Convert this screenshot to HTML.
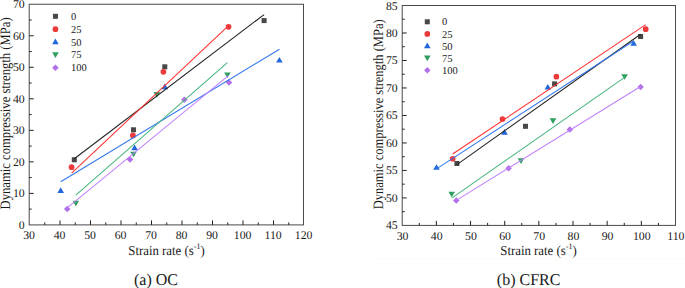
<!DOCTYPE html>
<html><head><meta charset="utf-8"><style>
html,body{margin:0;padding:0;background:#fff;}
svg{display:block;text-rendering:geometricPrecision;}
text{font-family:"Liberation Serif",serif;fill:#1a1a1a;}
.t{font-size:11.8px;}
.l{font-size:10.5px;}
.a{font-size:12.8px;}
.c{font-size:16px;}
</style></head><body>
<svg width="685" height="288" viewBox="0 0 685 288">
<rect width="685" height="288" fill="#fff"/>
<rect x="374.5" y="258" width="310.5" height="1" fill="#fcfbf6"/>
<rect x="29.2" y="4.25" width="274.3" height="220.65" fill="none" stroke="#4a4a4a" stroke-width="1"/>
<text x="29.10" y="239.20" text-anchor="middle" class="t">30</text>
<line x1="44.75" y1="224.9" x2="44.75" y2="222.4" stroke="#222" stroke-width="1"/>
<line x1="60.00" y1="224.9" x2="60.00" y2="220.4" stroke="#222" stroke-width="1"/>
<text x="59.60" y="239.20" text-anchor="middle" class="t">40</text>
<line x1="75.25" y1="224.9" x2="75.25" y2="222.4" stroke="#222" stroke-width="1"/>
<line x1="90.50" y1="224.9" x2="90.50" y2="220.4" stroke="#222" stroke-width="1"/>
<text x="90.10" y="239.20" text-anchor="middle" class="t">50</text>
<line x1="105.75" y1="224.9" x2="105.75" y2="222.4" stroke="#222" stroke-width="1"/>
<line x1="121.00" y1="224.9" x2="121.00" y2="220.4" stroke="#222" stroke-width="1"/>
<text x="120.60" y="239.20" text-anchor="middle" class="t">60</text>
<line x1="136.25" y1="224.9" x2="136.25" y2="222.4" stroke="#222" stroke-width="1"/>
<line x1="151.50" y1="224.9" x2="151.50" y2="220.4" stroke="#222" stroke-width="1"/>
<text x="151.10" y="239.20" text-anchor="middle" class="t">70</text>
<line x1="166.75" y1="224.9" x2="166.75" y2="222.4" stroke="#222" stroke-width="1"/>
<line x1="182.00" y1="224.9" x2="182.00" y2="220.4" stroke="#222" stroke-width="1"/>
<text x="181.60" y="239.20" text-anchor="middle" class="t">80</text>
<line x1="197.25" y1="224.9" x2="197.25" y2="222.4" stroke="#222" stroke-width="1"/>
<line x1="212.50" y1="224.9" x2="212.50" y2="220.4" stroke="#222" stroke-width="1"/>
<text x="212.10" y="239.20" text-anchor="middle" class="t">90</text>
<line x1="227.75" y1="224.9" x2="227.75" y2="222.4" stroke="#222" stroke-width="1"/>
<line x1="243.00" y1="224.9" x2="243.00" y2="220.4" stroke="#222" stroke-width="1"/>
<text x="242.60" y="239.20" text-anchor="middle" class="t">100</text>
<line x1="258.25" y1="224.9" x2="258.25" y2="222.4" stroke="#222" stroke-width="1"/>
<line x1="273.50" y1="224.9" x2="273.50" y2="220.4" stroke="#222" stroke-width="1"/>
<text x="273.10" y="239.20" text-anchor="middle" class="t">110</text>
<line x1="288.75" y1="224.9" x2="288.75" y2="222.4" stroke="#222" stroke-width="1"/>
<text x="303.60" y="239.20" text-anchor="middle" class="t">120</text>
<text x="24.70" y="228.90" text-anchor="end" class="t">0</text>
<line x1="29.2" y1="209.14" x2="31.7" y2="209.14" stroke="#222" stroke-width="1"/>
<line x1="29.2" y1="193.38" x2="33.7" y2="193.38" stroke="#222" stroke-width="1"/>
<text x="24.70" y="197.38" text-anchor="end" class="t">10</text>
<line x1="29.2" y1="177.62" x2="31.7" y2="177.62" stroke="#222" stroke-width="1"/>
<line x1="29.2" y1="161.86" x2="33.7" y2="161.86" stroke="#222" stroke-width="1"/>
<text x="24.70" y="165.86" text-anchor="end" class="t">20</text>
<line x1="29.2" y1="146.10" x2="31.7" y2="146.10" stroke="#222" stroke-width="1"/>
<line x1="29.2" y1="130.34" x2="33.7" y2="130.34" stroke="#222" stroke-width="1"/>
<text x="24.70" y="134.34" text-anchor="end" class="t">30</text>
<line x1="29.2" y1="114.58" x2="31.7" y2="114.58" stroke="#222" stroke-width="1"/>
<line x1="29.2" y1="98.81" x2="33.7" y2="98.81" stroke="#222" stroke-width="1"/>
<text x="24.70" y="102.81" text-anchor="end" class="t">40</text>
<line x1="29.2" y1="83.05" x2="31.7" y2="83.05" stroke="#222" stroke-width="1"/>
<line x1="29.2" y1="67.29" x2="33.7" y2="67.29" stroke="#222" stroke-width="1"/>
<text x="24.70" y="71.29" text-anchor="end" class="t">50</text>
<line x1="29.2" y1="51.53" x2="31.7" y2="51.53" stroke="#222" stroke-width="1"/>
<line x1="29.2" y1="35.77" x2="33.7" y2="35.77" stroke="#222" stroke-width="1"/>
<text x="24.70" y="39.77" text-anchor="end" class="t">60</text>
<line x1="29.2" y1="20.01" x2="31.7" y2="20.01" stroke="#222" stroke-width="1"/>
<text x="24.70" y="8.25" text-anchor="end" class="t">70</text>
<rect x="71.79" y="157.29" width="5.02" height="5.02" fill="#484848"/>
<rect x="130.99" y="127.29" width="5.02" height="5.02" fill="#484848"/>
<rect x="162.29" y="64.29" width="5.02" height="5.02" fill="#484848"/>
<rect x="261.59" y="18.09" width="5.02" height="5.02" fill="#484848"/>
<circle cx="71.60" cy="167.20" r="2.84" fill="#ec3a3a"/>
<circle cx="132.90" cy="135.40" r="2.84" fill="#ec3a3a"/>
<circle cx="163.40" cy="71.80" r="2.84" fill="#ec3a3a"/>
<circle cx="228.60" cy="26.80" r="2.84" fill="#ec3a3a"/>
<polygon points="60.70,187.29 63.99,192.96 57.41,192.96" fill="#2266dd"/>
<polygon points="134.60,144.59 137.89,150.26 131.31,150.26" fill="#2266dd"/>
<polygon points="164.80,83.59 168.09,89.26 161.51,89.26" fill="#2266dd"/>
<polygon points="279.40,56.89 282.69,62.56 276.11,62.56" fill="#2266dd"/>
<polygon points="75.80,206.30 79.09,200.63 72.51,200.63" fill="#2e9e5e"/>
<polygon points="133.50,157.30 136.79,151.63 130.21,151.63" fill="#2e9e5e"/>
<polygon points="156.80,97.70 160.09,92.03 153.51,92.03" fill="#2e9e5e"/>
<polygon points="227.40,78.11 230.69,72.44 224.11,72.44" fill="#2e9e5e"/>
<polygon points="67.20,205.86 70.44,209.10 67.20,212.34 63.96,209.10" fill="#b070e8"/>
<polygon points="130.00,156.36 133.24,159.60 130.00,162.84 126.76,159.60" fill="#b070e8"/>
<polygon points="184.30,96.56 187.54,99.80 184.30,103.04 181.06,99.80" fill="#b070e8"/>
<polygon points="229.00,79.36 232.24,82.60 229.00,85.84 225.76,82.60" fill="#b070e8"/>
<line x1="74.30" y1="158.72" x2="264.10" y2="14.55" stroke="#222222" stroke-width="1.05"/>
<line x1="71.60" y1="173.04" x2="228.60" y2="25.73" stroke="#ff3030" stroke-width="1.05"/>
<line x1="60.70" y1="181.69" x2="279.40" y2="49.18" stroke="#3377ee" stroke-width="1.05"/>
<line x1="75.80" y1="195.18" x2="227.40" y2="62.68" stroke="#48b67e" stroke-width="1.05"/>
<line x1="67.20" y1="207.79" x2="229.00" y2="75.18" stroke="#c080ff" stroke-width="1.05"/>
<rect x="52.94" y="13.79" width="5.02" height="5.02" fill="#484848"/>
<text x="71.1" y="19.90" class="l">0</text>
<circle cx="55.45" cy="29.15" r="2.84" fill="#ec3a3a"/>
<text x="71.1" y="32.75" class="l">25</text>
<polygon points="55.45,38.49 58.74,44.16 52.16,44.16" fill="#2266dd"/>
<text x="71.1" y="45.60" class="l">50</text>
<polygon points="55.45,57.95 58.74,52.28 52.16,52.28" fill="#2e9e5e"/>
<text x="71.1" y="58.45" class="l">75</text>
<polygon points="55.45,64.46 58.69,67.70 55.45,70.94 52.21,67.70" fill="#b070e8"/>
<text x="71.1" y="71.30" class="l">100</text>
<rect x="402.2" y="5.5" width="273.3" height="219.9" fill="none" stroke="#4a4a4a" stroke-width="1"/>
<text x="402.60" y="239.70" text-anchor="middle" class="t">30</text>
<line x1="419.28" y1="225.4" x2="419.28" y2="222.9" stroke="#222" stroke-width="1"/>
<line x1="436.36" y1="225.4" x2="436.36" y2="220.9" stroke="#222" stroke-width="1"/>
<text x="436.76" y="239.70" text-anchor="middle" class="t">40</text>
<line x1="453.44" y1="225.4" x2="453.44" y2="222.9" stroke="#222" stroke-width="1"/>
<line x1="470.52" y1="225.4" x2="470.52" y2="220.9" stroke="#222" stroke-width="1"/>
<text x="470.92" y="239.70" text-anchor="middle" class="t">50</text>
<line x1="487.61" y1="225.4" x2="487.61" y2="222.9" stroke="#222" stroke-width="1"/>
<line x1="504.69" y1="225.4" x2="504.69" y2="220.9" stroke="#222" stroke-width="1"/>
<text x="505.09" y="239.70" text-anchor="middle" class="t">60</text>
<line x1="521.77" y1="225.4" x2="521.77" y2="222.9" stroke="#222" stroke-width="1"/>
<line x1="538.85" y1="225.4" x2="538.85" y2="220.9" stroke="#222" stroke-width="1"/>
<text x="539.25" y="239.70" text-anchor="middle" class="t">70</text>
<line x1="555.93" y1="225.4" x2="555.93" y2="222.9" stroke="#222" stroke-width="1"/>
<line x1="573.01" y1="225.4" x2="573.01" y2="220.9" stroke="#222" stroke-width="1"/>
<text x="573.41" y="239.70" text-anchor="middle" class="t">80</text>
<line x1="590.09" y1="225.4" x2="590.09" y2="222.9" stroke="#222" stroke-width="1"/>
<line x1="607.17" y1="225.4" x2="607.17" y2="220.9" stroke="#222" stroke-width="1"/>
<text x="607.57" y="239.70" text-anchor="middle" class="t">90</text>
<line x1="624.26" y1="225.4" x2="624.26" y2="222.9" stroke="#222" stroke-width="1"/>
<line x1="641.34" y1="225.4" x2="641.34" y2="220.9" stroke="#222" stroke-width="1"/>
<text x="641.74" y="239.70" text-anchor="middle" class="t">100</text>
<line x1="658.42" y1="225.4" x2="658.42" y2="222.9" stroke="#222" stroke-width="1"/>
<text x="675.90" y="239.70" text-anchor="middle" class="t">110</text>
<text x="397.70" y="229.40" text-anchor="end" class="t">45</text>
<line x1="402.2" y1="211.66" x2="404.7" y2="211.66" stroke="#222" stroke-width="1"/>
<line x1="402.2" y1="197.91" x2="406.7" y2="197.91" stroke="#222" stroke-width="1"/>
<text x="397.70" y="201.91" text-anchor="end" class="t">50</text>
<line x1="402.2" y1="184.17" x2="404.7" y2="184.17" stroke="#222" stroke-width="1"/>
<line x1="402.2" y1="170.43" x2="406.7" y2="170.43" stroke="#222" stroke-width="1"/>
<text x="397.70" y="174.43" text-anchor="end" class="t">55</text>
<line x1="402.2" y1="156.68" x2="404.7" y2="156.68" stroke="#222" stroke-width="1"/>
<line x1="402.2" y1="142.94" x2="406.7" y2="142.94" stroke="#222" stroke-width="1"/>
<text x="397.70" y="146.94" text-anchor="end" class="t">60</text>
<line x1="402.2" y1="129.19" x2="404.7" y2="129.19" stroke="#222" stroke-width="1"/>
<line x1="402.2" y1="115.45" x2="406.7" y2="115.45" stroke="#222" stroke-width="1"/>
<text x="397.70" y="119.45" text-anchor="end" class="t">65</text>
<line x1="402.2" y1="101.71" x2="404.7" y2="101.71" stroke="#222" stroke-width="1"/>
<line x1="402.2" y1="87.96" x2="406.7" y2="87.96" stroke="#222" stroke-width="1"/>
<text x="397.70" y="91.96" text-anchor="end" class="t">70</text>
<line x1="402.2" y1="74.22" x2="404.7" y2="74.22" stroke="#222" stroke-width="1"/>
<line x1="402.2" y1="60.47" x2="406.7" y2="60.47" stroke="#222" stroke-width="1"/>
<text x="397.70" y="64.47" text-anchor="end" class="t">75</text>
<line x1="402.2" y1="46.73" x2="404.7" y2="46.73" stroke="#222" stroke-width="1"/>
<line x1="402.2" y1="32.99" x2="406.7" y2="32.99" stroke="#222" stroke-width="1"/>
<text x="397.70" y="36.99" text-anchor="end" class="t">80</text>
<line x1="402.2" y1="19.24" x2="404.7" y2="19.24" stroke="#222" stroke-width="1"/>
<text x="397.70" y="9.50" text-anchor="end" class="t">85</text>
<rect x="454.39" y="160.99" width="5.02" height="5.02" fill="#484848"/>
<rect x="522.99" y="123.79" width="5.02" height="5.02" fill="#484848"/>
<rect x="552.09" y="81.39" width="5.02" height="5.02" fill="#484848"/>
<rect x="638.09" y="33.99" width="5.02" height="5.02" fill="#484848"/>
<circle cx="452.70" cy="158.75" r="2.84" fill="#ec3a3a"/>
<circle cx="502.50" cy="119.00" r="2.84" fill="#ec3a3a"/>
<circle cx="556.40" cy="76.70" r="2.84" fill="#ec3a3a"/>
<circle cx="645.70" cy="29.20" r="2.84" fill="#ec3a3a"/>
<polygon points="436.50,164.19 439.79,169.86 433.21,169.86" fill="#2266dd"/>
<polygon points="504.50,129.09 507.79,134.76 501.21,134.76" fill="#2266dd"/>
<polygon points="547.80,83.89 551.09,89.56 544.51,89.56" fill="#2266dd"/>
<polygon points="633.60,39.99 636.89,45.66 630.31,45.66" fill="#2266dd"/>
<polygon points="451.70,197.30 454.99,191.63 448.41,191.63" fill="#2e9e5e"/>
<polygon points="521.00,163.91 524.29,158.24 517.71,158.24" fill="#2e9e5e"/>
<polygon points="553.00,123.91 556.29,118.23 549.71,118.23" fill="#2e9e5e"/>
<polygon points="624.60,79.81 627.89,74.14 621.31,74.14" fill="#2e9e5e"/>
<polygon points="456.25,197.16 459.49,200.40 456.25,203.64 453.01,200.40" fill="#b070e8"/>
<polygon points="508.60,165.06 511.84,168.30 508.60,171.54 505.36,168.30" fill="#b070e8"/>
<polygon points="569.80,126.26 573.04,129.50 569.80,132.74 566.56,129.50" fill="#b070e8"/>
<polygon points="640.60,83.66 643.84,86.90 640.60,90.14 637.36,86.90" fill="#b070e8"/>
<line x1="456.90" y1="164.64" x2="640.60" y2="34.29" stroke="#222222" stroke-width="1.05"/>
<line x1="452.70" y1="153.97" x2="645.70" y2="24.61" stroke="#ff3030" stroke-width="1.05"/>
<line x1="436.50" y1="168.83" x2="633.60" y2="41.00" stroke="#3377ee" stroke-width="1.05"/>
<line x1="451.70" y1="198.14" x2="624.60" y2="77.31" stroke="#48b67e" stroke-width="1.05"/>
<line x1="456.25" y1="200.33" x2="640.60" y2="86.53" stroke="#c080ff" stroke-width="1.05"/>
<rect x="424.79" y="19.29" width="5.02" height="5.02" fill="#484848"/>
<text x="442.0" y="25.40" class="l">0</text>
<circle cx="427.30" cy="33.90" r="2.84" fill="#ec3a3a"/>
<text x="442.0" y="37.50" class="l">25</text>
<polygon points="427.30,42.49 430.59,48.16 424.01,48.16" fill="#2266dd"/>
<text x="442.0" y="49.60" class="l">50</text>
<polygon points="427.30,61.20 430.59,55.53 424.01,55.53" fill="#2e9e5e"/>
<text x="442.0" y="61.70" class="l">75</text>
<polygon points="427.30,66.96 430.54,70.20 427.30,73.44 424.06,70.20" fill="#b070e8"/>
<text x="442.0" y="73.80" class="l">100</text>
<text transform="translate(9.7,113.4) rotate(-90) scale(1,1.14)" text-anchor="middle" class="a" style="font-size:12.65px">Dynamic compressive strength (MPa)</text>
<text transform="translate(383.4,114.3) rotate(-90) scale(1,1.14)" text-anchor="middle" class="a" style="font-size:12.5px">Dynamic compressive strength (MPa)</text>
<text transform="translate(166.5,255) scale(1,1.06)" text-anchor="middle" class="a">Strain rate (s<tspan dy="-5.3" font-size="8">-1</tspan><tspan dy="5.3">)</tspan></text>
<text transform="translate(538.5,255) scale(1,1.06)" text-anchor="middle" class="a">Strain rate (s<tspan dy="-5.3" font-size="8">-1</tspan><tspan dy="5.3">)</tspan></text>
<text transform="translate(156,285) scale(1,1.03)" text-anchor="middle" class="c">(a) OC</text>
<text transform="translate(528.6,285) scale(1,1.03)" text-anchor="middle" class="c">(b) CFRC</text>
</svg>
</body></html>
